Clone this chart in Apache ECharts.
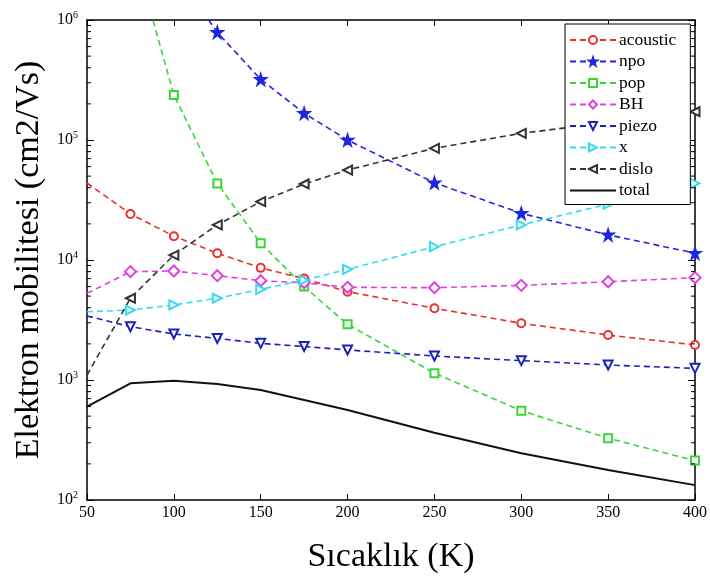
<!DOCTYPE html>
<html>
<head>
<meta charset="utf-8">
<script src="https://cdn.jsdelivr.net/npm/echarts@6/dist/echarts.min.js"></script>
<style>
  body { margin: 0; background: #fff; }
  #chart { width: 710px; height: 585px; }
</style>
</head>
<body>
<div id="chart"></div>
<script>
// temperatures (K)
const temps = [50, 75, 100, 125, 150, 175, 200, 250, 300, 350, 400];

// mobilities (cm2/Vs)
const acoustic = [43800, 24200, 15800, 11400, 8600, 7000, 5450, 3960, 2970, 2370, 1960];
const npo = [1.0e8, 1.2e7, 2.6e6, 789000, 320000, 167000, 100000, 44000, 24500, 16200, 11400];
const pop = [1.5e8, 4.7e6, 237000, 43500, 13800, 6000, 2910, 1140, 555, 327, 213];
const bh = [5270, 8000, 8100, 7400, 6720, 6460, 5920, 5880, 6150, 6590, 7130];
const piezo = [3420, 2780, 2420, 2220, 2020, 1900, 1780, 1585, 1450, 1334, 1250];
const xMob = [3700, 3830, 4220, 4800, 5700, 6810, 8360, 12900, 19600, 29200, 43500];
const dislo = [1100, 4800, 11000, 19600, 30600, 43000, 56200, 85300, 113600, 140000, 172000];
const total = [600, 938, 987, 927, 826, 681, 562, 364, 245, 178, 133];

const star = "path://M50,0 L61.8,35.5 L100,35.5 L69.1,57.5 L80.9,95 L50,72 L19.1,95 L30.9,57.5 L0,35.5 L38.2,35.5 Z";
const serif = "Liberation Serif";

let chart = echarts.init(document.getElementById("chart"));

function pts(vals, hideFirst) {
  return temps.map((t, i) => {
    if (i === 0 && hideFirst) return { value: [t, vals[i]], symbol: "none" };
    return [t, vals[i]];
  });
}

function dashed(name, vals, color, symbol, rotate, size) {
  return {
    name: name,
    type: "line",
    data: pts(vals, true),
    symbol: symbol,
    symbolSize: size,
    symbolRotate: rotate,
    clip: true,
    lineStyle: { color: color, width: 1.6, type: [6, 4] },
    itemStyle: { color: color, borderColor: color, borderWidth: 1.5 },
    z: 3
  };
}

const series = [
  dashed("acoustic", acoustic, "#e8302c", "emptyCircle", 0, 8),
  dashed("npo", npo, "#1f26e0", star, 0, 12),
  dashed("pop", pop, "#35d835", "emptyRect", 0, 8),
  dashed("BH", bh, "#e040e0", "emptyDiamond", 0, 11),
  dashed("piezo", piezo, "#1c22b8", "emptyTriangle", 180, 9),
  dashed("x", xMob, "#35dcf0", "emptyTriangle", -90, 9),
  dashed("dislo", dislo, "#333333", "emptyTriangle", 90, 9),
  {
    name: "total",
    type: "line",
    data: pts(total, false),
    symbol: "none",
    lineStyle: { color: "#111", width: 2 },
    itemStyle: { color: "#111" },
    z: 3
  }
];

const legendData = series.map(s => {
  if (s.name === "total") {
    return { name: s.name, itemStyle: { color: "rgba(0,0,0,0)", borderColor: "rgba(0,0,0,0)" } };
  }
  return { name: s.name };
});

const option = {
  backgroundColor: "#fff",
  animation: false,
  textStyle: { fontFamily: serif },
  grid: { left: 87, top: 20, width: 610, height: 480 },
  legend: {
    orient: "vertical",
    left: 565,
    top: 24,
    padding: [7, 14, 5, 4],
    itemGap: 3.5,
    itemWidth: 46,
    itemHeight: 10,
    backgroundColor: "#fff",
    borderColor: "#000",
    borderWidth: 1,
    textStyle: { fontFamily: serif, fontSize: 17.5, color: "#000", padding: [0, 0, 0, -2] },
    data: legendData
  },
  xAxis: [
    {
      type: "value",
      min: 50,
      max: 400,
      interval: 50,
      name: "Sıcaklık (K)",
      nameLocation: "middle",
      nameGap: 40,
      nameTextStyle: { fontFamily: serif, fontSize: 34, color: "#000" },
      axisLine: { lineStyle: { color: "#000", width: 1.5 } },
      axisTick: { inside: true, length: 6, lineStyle: { color: "#000" } },
      axisLabel: { fontFamily: serif, fontSize: 16, color: "#000", margin: 5 },
      splitLine: { show: false }
    },
    {
      type: "value",
      position: "top",
      min: 50,
      max: 400,
      interval: 50,
      axisLine: { show: true, lineStyle: { color: "#000", width: 1.5 } },
      axisTick: { show: true, inside: true, length: 6, lineStyle: { color: "#000" } },
      axisLabel: { show: false },
      splitLine: { show: false }
    }
  ],
  yAxis: [
    {
      type: "log",
      logBase: 10,
      min: 100,
      max: 1000000,
      name: "Elektron mobilitesi (cm2/Vs)",
      nameLocation: "middle",
      nameGap: 41,
      nameTextStyle: { fontFamily: serif, fontSize: 34, color: "#000" },
      axisLine: { show: true, lineStyle: { color: "#000", width: 1.5 } },
      axisTick: { inside: true, length: 7, lineStyle: { color: "#000" } },
      axisLabel: {
        fontFamily: serif,
        fontSize: 16,
        color: "#000",
        margin: 9,
        formatter: v => "10{sup|" + Math.round(Math.log10(v)) + "}",
        rich: { sup: { fontFamily: serif, fontSize: 10, verticalAlign: "top", padding: [0, 0, 9, 0] } }
      },
      splitLine: { show: false }
    },
    {
      type: "log",
      logBase: 10,
      min: 100,
      max: 1000000,
      position: "right",
      axisLine: { show: true, lineStyle: { color: "#000", width: 1.5 } },
      axisTick: { show: true, inside: true, length: 7, lineStyle: { color: "#000" } },
      axisLabel: { show: false },
      splitLine: { show: false }
    }
  ],
  series: series
};

chart.setOption(option);

// MATLAB-style minor ticks (2..9 per decade) on both y sides
const minor = [];
const xl = chart.convertToPixel({ xAxisIndex: 0 }, 50);
const xr = chart.convertToPixel({ xAxisIndex: 0 }, 400);
for (let k = 2; k < 6; k++) {
  for (let m = 2; m < 10; m++) {
    const y = chart.convertToPixel({ yAxisIndex: 0 }, m * Math.pow(10, k));
    minor.push({ type: "line", shape: { x1: xl, y1: y, x2: xl + 4, y2: y }, style: { stroke: "#000", lineWidth: 1 }, z: 5 });
    minor.push({ type: "line", shape: { x1: xr, y1: y, x2: xr - 4, y2: y }, style: { stroke: "#000", lineWidth: 1 }, z: 5 });
  }
}
chart.setOption({ graphic: minor });
</script>
</body>
</html>
